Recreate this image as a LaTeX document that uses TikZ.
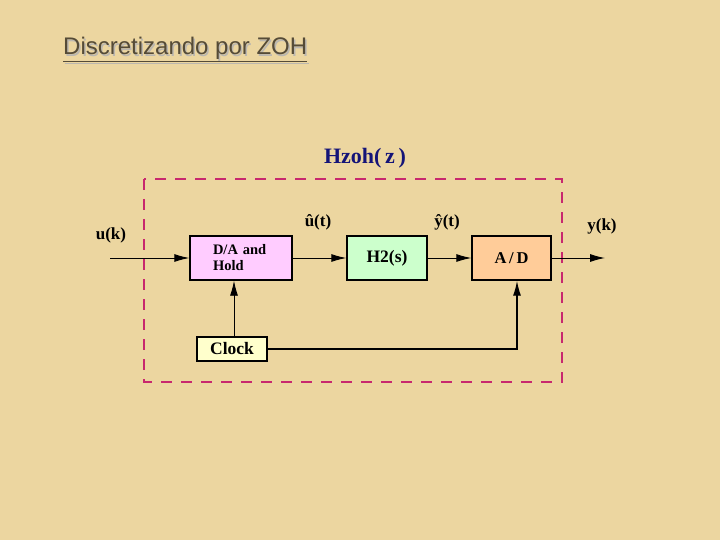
\documentclass[tikz,border=0pt]{standalone}
\usepackage{fontspec}
\setmainfont{Liberation Serif}
\newfontfamily\titlefont{Liberation Sans}
\usetikzlibrary{arrows.meta,positioning}

\definecolor{parchment}{RGB}{236,214,160}
\definecolor{dashpink}{RGB}{200,40,110}
\definecolor{navyblue}{RGB}{20,20,120}
\definecolor{titlegray}{RGB}{85,75,55}
\definecolor{dafill}{RGB}{255,204,255}
\definecolor{hfill}{RGB}{204,255,204}
\definecolor{adfill}{RGB}{255,204,153}
\definecolor{clkfill}{RGB}{255,255,204}

\begin{document}
\begin{tikzpicture}[
    x=1pt, y=-1pt,
    block/.style={rectangle, draw, line width=1.4pt, inner sep=0pt, minimum height=44pt, font=\bfseries},
    sig/.style={font=\bfseries\fontsize{17}{19}\selectfont},
    arrow/.style={-{Latex[length=15pt,width=8pt]}, line width=0.9pt}
]
    % Background
    \fill[parchment] (0,0) rectangle (720,540);
    \useasboundingbox (0,0) rectangle (720,540);

    % Title
    \node[anchor=base west, text=titlegray!40, font=\titlefont\fontsize{24}{27}\selectfont, inner sep=0pt] at (64.5,56.5) {\underline{Discretizando por ZOH}};
    \node[anchor=base west, text=titlegray, font=\titlefont\fontsize{24}{27}\selectfont, inner sep=0pt] (title) at (63,55) {\underline{Discretizando por ZOH}};

    % Subsystem frame
    \draw[dashpink, line width=1.4pt, dash pattern=on 11pt off 9pt] (144,179) rectangle (562,382);
    \node[text=navyblue, font=\bfseries\fontsize{22}{25}\selectfont] (hzoh) at (365,158) {Hzoh(\,z\,)};

    % Blocks
    \node[block, fill=dafill, minimum width=102pt, text width=56pt, align=left, font=\bfseries\fontsize{14.5}{16}\selectfont] (dahold) at (241,258) {D/A and\\Hold};
    \node[block, fill=hfill, minimum width=80pt, font=\bfseries\fontsize{17.5}{19}\selectfont] (htwo) at (387,258) {H2(s)};
    \node[block, fill=adfill, minimum width=79pt, font=\bfseries\fontsize{16.5}{18}\selectfont] (adconv) at (511.5,258) {A\,/\,D};
    \node[block, fill=clkfill, minimum width=70pt, minimum height=24pt, font=\bfseries\fontsize{17.5}{19}\selectfont] (clock) at (232,349) {Clock};

    % Signal labels
    \node[sig] (uk) at (111,235) {u(k)};
    \node[sig] (uhat) at (318,222) {û(t)};
    \node[sig] (yhat) at (447,222) {ŷ(t)};
    \node[sig] (yk) at (602,226) {y(k)};

    % Free ends
    \coordinate (uin) at (110,258);
    \coordinate (yout) at (605,258);

    % Arrows
    \draw[arrow] (uin) -- (dahold);
    \draw[arrow] (dahold) -- (htwo);
    \draw[arrow] (htwo) -- (adconv);
    \draw[arrow] (adconv) -- (yout);
    \draw[arrow] ([xshift=2pt]clock.north) -- ([xshift=2pt]clock.north |- dahold.south);
    \draw[arrow, line width=1.4pt] (clock.east) -| ([xshift=5.5pt]adconv.south);

\end{tikzpicture}
\end{document}
